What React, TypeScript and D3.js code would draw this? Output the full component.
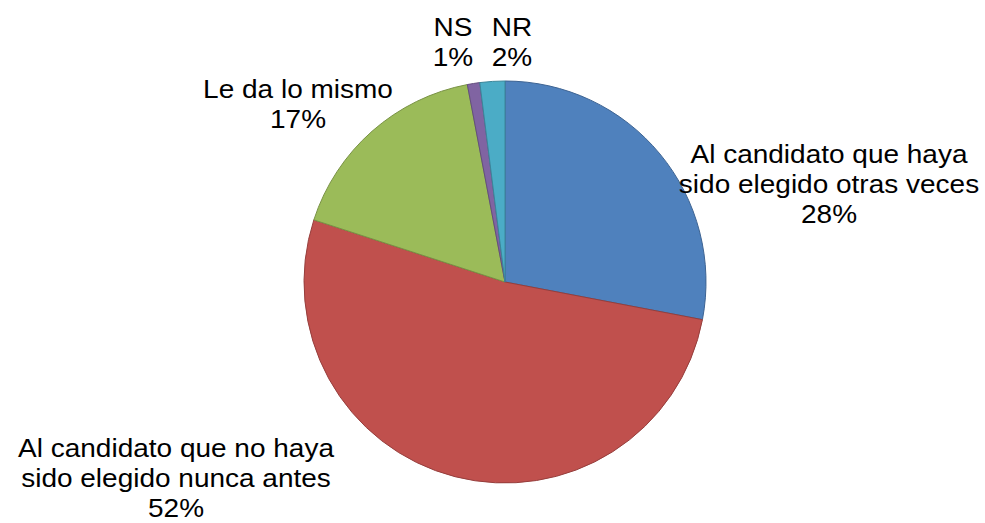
import { useEffect, useRef } from 'react';
import * as d3 from 'd3';

const labels = [
  ['Al candidato que haya', 'sido elegido otras veces'],
  ['Al candidato que no haya', 'sido elegido nunca antes'],
  ['Le da lo mismo'],
  ['NS'],
  ['NR'],
];
const values = [28, 52, 17, 1, 2];
const colors = ['#4F81BD', '#C0504D', '#9BBB59', '#8064A2', '#4BACC6'];
// label anchor: center x, first-line baseline
const labelPos: [number, number][] = [
  [829, 163],
  [176, 457],
  [298, 98],
  [453, 36],
  [512, 36],
];

export default function App() {
  const svgRef = useRef<SVGSVGElement>(null);

  useEffect(() => {
    if (!svgRef.current) return;
    const svg = d3.select(svgRef.current);
    svg.selectAll('*').remove();

    const width = 985;
    const height = 523;
    const cx = 505;
    const cy = 282;
    const radius = 201;

    svg.append('rect').attr('width', width).attr('height', height).attr('fill', '#fff');

    const pie = d3.pie<number>().sort(null).value(d => d);
    const arc = d3.arc<d3.PieArcDatum<number>>().innerRadius(0).outerRadius(radius);

    const g = svg.append('g').attr('transform', `translate(${cx}, ${cy})`);
    g.selectAll('path')
      .data(pie(values))
      .enter()
      .append('path')
      .attr('d', arc)
      .attr('fill', (_, i) => colors[i])
      .attr('stroke', (_, i) => d3.color(colors[i])!.darker(0.7).toString())
      .attr('stroke-width', 1);

    const lineH = 30;
    values.forEach((v, i) => {
      const lines = [...labels[i], `${v}%`];
      const [lx, ly] = labelPos[i];
      // text in the reference is slightly stretched horizontally
      const t = svg.append('text')
        .attr('transform', `translate(${lx}, ${ly}) scale(1.12, 1)`)
        .attr('text-anchor', 'middle')
        .attr('font-family', 'Liberation Sans, Arial, sans-serif')
        .attr('font-size', '25px')
        .attr('fill', '#000');
      lines.forEach((l, j) => {
        t.append('tspan')
          .attr('x', 0)
          .attr('y', j * lineH)
          .text(l);
      });
    });
  }, []);

  return (
    <svg
      ref={svgRef}
      width={985}
      height={523}
      style={{ position: 'absolute', left: 0, top: 0 }}
    />
  );
}
